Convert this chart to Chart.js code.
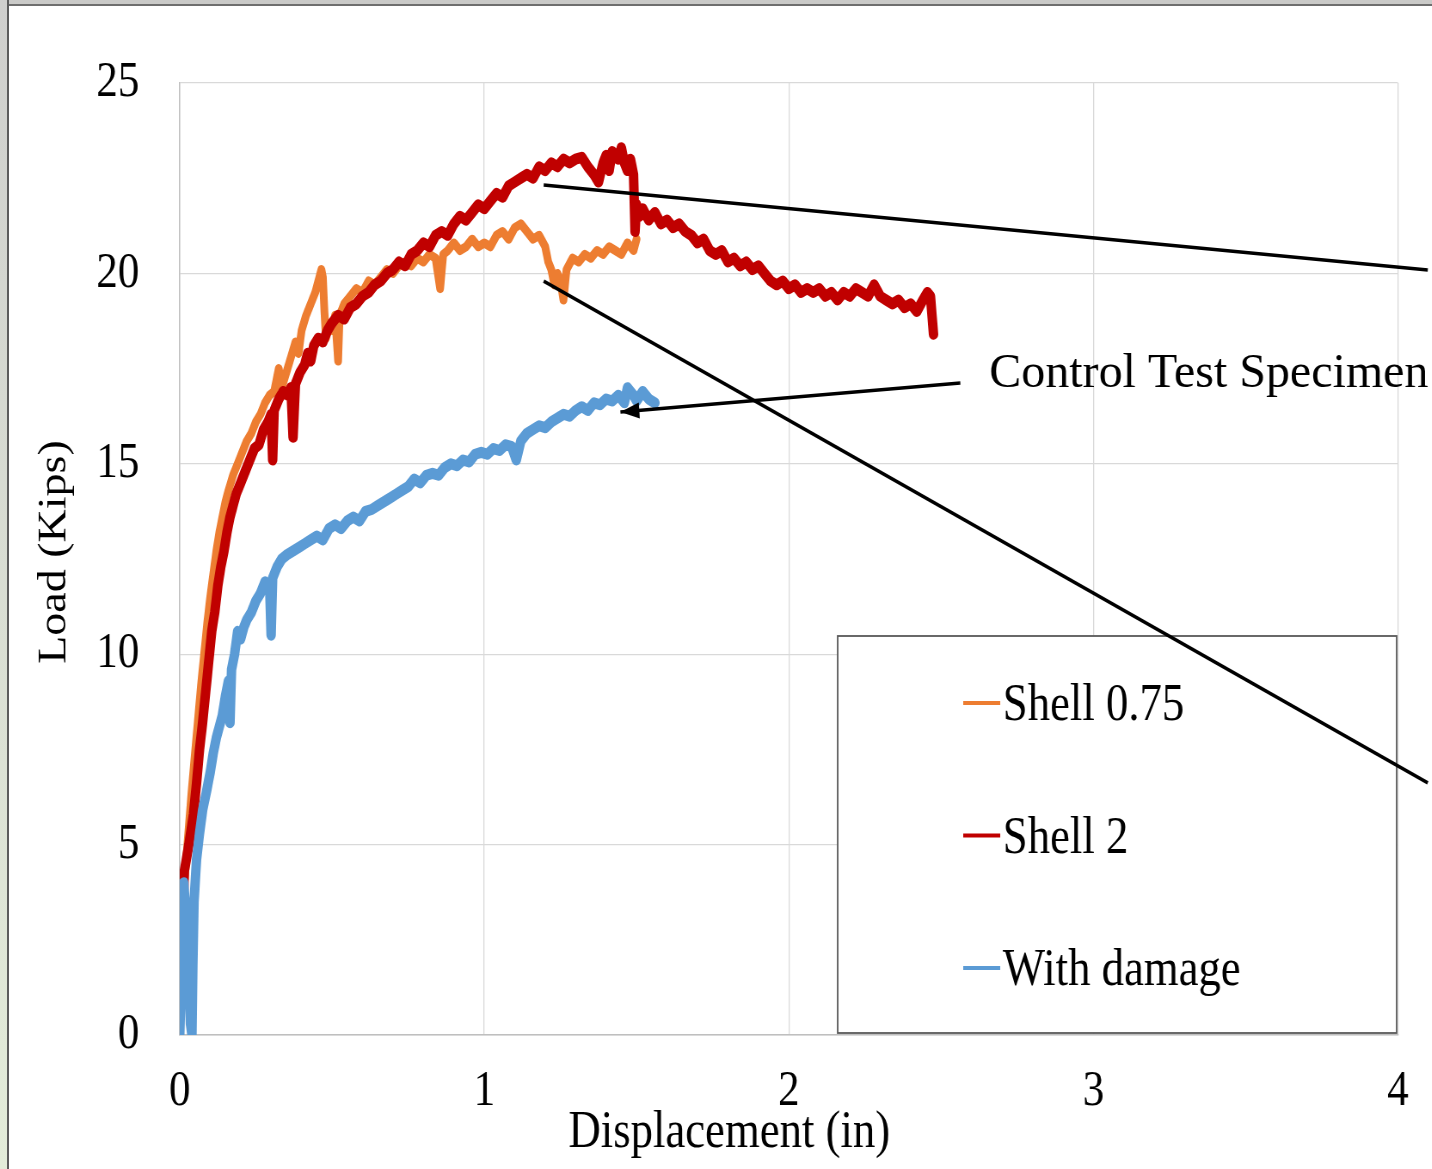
<!DOCTYPE html>
<html>
<head>
<meta charset="utf-8">
<script src="https://cdn.jsdelivr.net/npm/chart.js@4.4.0/dist/chart.umd.min.js"></script>
<style>
  html, body { margin: 0; padding: 0; background: #fff; }
  #page { position: relative; width: 1432px; height: 1169px; overflow: hidden; background: #fff; }
  /* the original figure is squeezed sideways, so draw wide and compress */
  #squash { position: absolute; left: 0; top: 0; width: 1665px; height: 1169px; transform: scaleX(0.86); transform-origin: 0 0; }
  #edgeTop { position: absolute; left: 0; top: 0; width: 1432px; height: 4px; background: #cacac8; border-bottom: 2px solid #6e6e6e; }
  #edgeLeft { position: absolute; left: 0; top: 0; width: 7px; height: 1169px; background: linear-gradient(#cfcfcd, #e3ecd9); border-right: 2px solid #5c5c5c; }
</style>
</head>
<body>
<div id="page">
  <div id="squash"><canvas id="chart"></canvas></div>
  <div id="edgeTop"></div>
  <div id="edgeLeft"></div>
</div>
<script>
// Series labels
const seriesNames = ['Shell 0.75', 'Shell 2', 'With damage'];

// Load (kips) vs displacement (in)
const shell075 = [
  [0.01,3.5],[0.02,4.5],[0.03,5.5],[0.04,6.5],[0.05,7.4],[0.06,8.3],[0.07,9.2],[0.08,10.0],[0.09,10.8],[0.1,11.5],
  [0.11,12.1],[0.12,12.7],[0.13,13.2],[0.14,13.6],[0.15,14.0],[0.16,14.3],[0.175,14.7],[0.19,15.0],[0.205,15.3],[0.22,15.6],
  [0.235,15.8],[0.25,16.1],[0.265,16.3],[0.28,16.6],[0.295,16.8],[0.31,16.9],[0.325,17.5],[0.335,17.0],[0.35,17.4],[0.365,17.8],
  [0.38,18.2],[0.39,17.9],[0.4,18.5],[0.415,18.9],[0.43,19.2],[0.445,19.5],[0.455,19.8],[0.465,20.1],[0.47,19.9],[0.475,19.0],
  [0.48,18.3],[0.49,18.6],[0.5,18.5],[0.51,18.9],[0.52,17.7],[0.525,18.9],[0.54,19.2],[0.56,19.4],[0.58,19.6],[0.6,19.5],
  [0.62,19.8],[0.64,19.7],[0.66,19.9],[0.68,20.1],[0.7,20.0],[0.72,20.2],[0.74,20.3],[0.76,20.2],[0.78,20.4],[0.8,20.3],
  [0.82,20.5],[0.84,20.4],[0.855,19.6],[0.865,20.5],[0.88,20.6],[0.9,20.8],[0.92,20.6],[0.94,20.7],[0.96,20.9],[0.98,20.7],
  [1.0,20.8],[1.02,20.7],[1.04,21.0],[1.06,21.1],[1.08,20.9],[1.1,21.2],[1.12,21.3],[1.14,21.1],[1.16,20.9],[1.18,21.0],
  [1.2,20.7],[1.21,20.3],[1.22,20.1],[1.23,19.7],[1.24,20.0],[1.25,19.8],[1.26,19.3],[1.27,20.1],[1.29,20.4],[1.31,20.3],
  [1.33,20.5],[1.35,20.4],[1.37,20.6],[1.39,20.5],[1.41,20.7],[1.43,20.6],[1.45,20.5],[1.47,20.8],[1.49,20.6],[1.5,20.9]
];

const shell2 = [
  [0.005,1.8],[0.01,3.0],[0.015,4.3],[0.03,5.0],[0.045,5.8],[0.055,6.6],[0.065,7.5],[0.075,8.2],[0.085,9.0],[0.095,9.8],
  [0.105,10.6],[0.115,11.1],[0.125,11.8],[0.135,12.3],[0.145,12.7],[0.155,13.2],[0.165,13.6],[0.175,13.9],[0.185,14.2],[0.2,14.5],
  [0.215,14.8],[0.23,15.1],[0.245,15.4],[0.26,15.5],[0.275,15.9],[0.29,16.1],[0.3,16.3],[0.305,15.1],[0.31,16.4],[0.325,16.7],
  [0.34,16.9],[0.355,16.8],[0.365,17.0],[0.372,15.7],[0.38,17.1],[0.395,17.4],[0.41,17.6],[0.42,17.9],[0.43,17.7],[0.44,18.1],
  [0.455,18.3],[0.47,18.2],[0.485,18.5],[0.5,18.7],[0.52,18.9],[0.54,18.8],[0.56,19.1],[0.58,19.2],[0.6,19.4],[0.62,19.5],
  [0.64,19.7],[0.66,19.8],[0.68,20.0],[0.7,20.1],[0.72,20.3],[0.74,20.2],[0.76,20.5],[0.78,20.6],[0.8,20.8],[0.82,20.7],
  [0.84,21.0],[0.86,21.1],[0.88,21.0],[0.9,21.3],[0.92,21.5],[0.94,21.4],[0.96,21.6],[0.98,21.8],[1.0,21.7],[1.02,21.9],
  [1.04,22.1],[1.06,22.0],[1.08,22.3],[1.1,22.4],[1.12,22.5],[1.14,22.6],[1.16,22.5],[1.18,22.8],[1.2,22.7],[1.22,22.9],
  [1.24,22.8],[1.26,23.0],[1.28,22.9],[1.3,23.0],[1.32,23.05],[1.34,22.8],[1.36,22.6],[1.375,22.4],[1.39,22.9],[1.4,23.1],
  [1.41,22.7],[1.42,23.2],[1.44,23.0],[1.45,23.3],[1.46,22.9],[1.47,22.7],[1.48,23.0],[1.49,22.6],[1.495,21.1],[1.5,21.8],
  [1.51,21.5],[1.52,21.7],[1.54,21.4],[1.56,21.6],[1.58,21.3],[1.6,21.4],[1.62,21.2],[1.64,21.3],[1.66,21.1],[1.68,21.0],
  [1.7,20.8],[1.72,20.9],[1.74,20.6],[1.76,20.5],[1.78,20.6],[1.8,20.3],[1.82,20.4],[1.84,20.2],[1.86,20.3],[1.88,20.1],
  [1.9,20.2],[1.92,20.0],[1.94,19.8],[1.96,19.7],[1.98,19.8],[2.0,19.6],[2.02,19.7],[2.04,19.5],[2.06,19.6],[2.08,19.5],
  [2.1,19.6],[2.12,19.4],[2.14,19.5],[2.16,19.3],[2.18,19.5],[2.2,19.4],[2.22,19.6],[2.24,19.5],[2.26,19.4],[2.28,19.7],
  [2.3,19.4],[2.32,19.3],[2.34,19.2],[2.36,19.3],[2.38,19.1],[2.4,19.2],[2.42,19.0],[2.44,19.3],[2.455,19.5],[2.465,19.4],
  [2.47,18.9],[2.475,18.4]
];

const withDamage = [
  [0,0],[0.005,1.5],[0.01,3.0],[0.013,4.0],[0.02,3.2],[0.03,1.5],[0.035,0.3],[0.04,0],[0.043,1.8],[0.047,3.5],
  [0.055,4.6],[0.065,5.3],[0.075,5.9],[0.088,6.4],[0.1,6.9],[0.11,7.4],[0.12,7.8],[0.13,8.1],[0.14,8.4],[0.15,8.9],
  [0.16,9.3],[0.165,8.2],[0.17,9.6],[0.18,10.0],[0.19,10.6],[0.2,10.4],[0.21,10.7],[0.22,10.9],[0.235,11.1],[0.25,11.4],
  [0.265,11.6],[0.28,11.9],[0.295,11.8],[0.3,10.5],[0.305,12.0],[0.32,12.3],[0.335,12.5],[0.35,12.6],[0.37,12.7],[0.39,12.8],
  [0.41,12.9],[0.43,13.0],[0.45,13.1],[0.47,13.0],[0.49,13.3],[0.51,13.4],[0.53,13.3],[0.55,13.5],[0.57,13.6],[0.59,13.5],
  [0.61,13.75],[0.63,13.8],[0.65,13.9],[0.67,14.0],[0.69,14.1],[0.71,14.2],[0.73,14.3],[0.75,14.4],[0.77,14.6],[0.79,14.5],
  [0.81,14.7],[0.83,14.75],[0.85,14.7],[0.87,14.9],[0.89,15.0],[0.91,14.95],[0.93,15.1],[0.95,15.05],[0.97,15.25],[0.99,15.3],
  [1.01,15.25],[1.03,15.4],[1.05,15.35],[1.07,15.5],[1.09,15.45],[1.105,15.1],[1.12,15.6],[1.14,15.8],[1.16,15.9],[1.18,16.0],
  [1.2,15.95],[1.22,16.1],[1.24,16.2],[1.26,16.3],[1.28,16.25],[1.3,16.4],[1.32,16.5],[1.34,16.4],[1.36,16.6],[1.38,16.55],
  [1.4,16.7],[1.42,16.65],[1.44,16.8],[1.46,16.6],[1.47,17.0],[1.49,16.8],[1.5,16.65],[1.52,16.9],[1.54,16.7],[1.56,16.6]
];

// Axis ticks
const xTicks = [0, 1, 2, 3, 4];
const yTicks = [0, 5, 10, 15, 20, 25];

const SQUASH = 0.86;
const SERIF = '"Liberation Serif", "Times New Roman", serif';

// Callouts drawn over the plot (data units)
const callouts = [
  { from: [1.195, 22.32], to: [4.098, 20.09], arrow: false },
  { from: [1.195, 19.8], to: [4.098, 6.62], arrow: false },
  { from: [2.563, 17.12], to: [1.447, 16.36], arrow: true }
];
const calloutText = { text: 'Control Test Specimen', at: [2.658, 17.02] };

function toPoints(list) {
  return list.map(function(p) { return { x: p[0], y: p[1] }; });
}

const extras = {
  id: 'extras',
  afterDraw(chart) {
    const ctx = chart.ctx;
    const px = v => chart.scales.x.getPixelForValue(v);
    const py = v => chart.scales.y.getPixelForValue(v);

    // Axis titles
    ctx.save();
    ctx.fillStyle = '#000';
    ctx.font = '52px ' + SERIF;
    ctx.textAlign = 'center';
    ctx.textBaseline = 'alphabetic';
    ctx.fillText('Displacement (in)', 848, 1147);
    ctx.translate(64, 552);
    ctx.rotate(-Math.PI / 2);
    ctx.font = '46px ' + SERIF;
    ctx.textBaseline = 'middle';
    ctx.fillText('Load (Kips)', 0, 0);
    ctx.restore();

    // Legend box inside the plot
    ctx.save();
    ctx.fillStyle = '#fff';
    ctx.fillRect(974, 636, 650, 397);
    ctx.strokeStyle = '#595959';
    ctx.lineWidth = 1.8;
    ctx.strokeRect(974, 636, 650, 397);
    chart.data.datasets.forEach(function(ds, i) {
      const y = 703 + i * 132.5;
      ctx.strokeStyle = ds.borderColor;
      ctx.lineWidth = 4;
      ctx.beginPath();
      ctx.moveTo(1120, y);
      ctx.lineTo(1163, y);
      ctx.stroke();
      ctx.fillStyle = '#000';
      ctx.font = '52px ' + SERIF;
      ctx.textAlign = 'left';
      ctx.textBaseline = 'alphabetic';
      ctx.fillText(ds.label, 1166, y + 17);
    });
    ctx.restore();

    // Callout lines and arrow
    ctx.save();
    ctx.strokeStyle = '#000';
    ctx.fillStyle = '#000';
    ctx.lineWidth = 3.6;
    callouts.forEach(function(c) {
      const x1 = px(c.from[0]), y1 = py(c.from[1]);
      const x2 = px(c.to[0]), y2 = py(c.to[1]);
      ctx.beginPath();
      ctx.moveTo(x1, y1);
      ctx.lineTo(x2, y2);
      ctx.stroke();
      if (c.arrow) {
        const a = Math.atan2(y2 - y1, x2 - x1);
        const len = 22, half = 8;
        ctx.beginPath();
        ctx.moveTo(x2, y2);
        ctx.lineTo(x2 - len * Math.cos(a) + half * Math.sin(a), y2 - len * Math.sin(a) - half * Math.cos(a));
        ctx.lineTo(x2 - len * Math.cos(a) - half * Math.sin(a), y2 - len * Math.sin(a) + half * Math.cos(a));
        ctx.closePath();
        ctx.fill();
      }
    });
    // the callout text is not squeezed in the original
    ctx.translate(px(calloutText.at[0]), py(calloutText.at[1]));
    ctx.scale(1 / SQUASH, 1);
    ctx.font = '48px ' + SERIF;
    ctx.textAlign = 'left';
    ctx.textBaseline = 'alphabetic';
    ctx.fillText(calloutText.text, 0, 0);
    ctx.restore();
  }
};

const tickFont = { family: SERIF, size: 50 };

new Chart(document.getElementById('chart'), {
  type: 'scatter',
  data: {
    datasets: [
      { label: seriesNames[0], data: toPoints(shell075), borderColor: '#ED7D31', borderWidth: 9, order: 3 },
      { label: seriesNames[1], data: toPoints(shell2), borderColor: '#C00000', borderWidth: 11, order: 2 },
      { label: seriesNames[2], data: toPoints(withDamage), borderColor: '#5B9BD5', borderWidth: 11, order: 1 }
    ].map(function(ds) {
      return Object.assign(ds, { showLine: true, pointRadius: 0, tension: 0, borderJoinStyle: 'round', borderCapStyle: 'round' });
    })
  },
  options: {
    responsive: true,
    maintainAspectRatio: false,
    animation: false,
    layout: { padding: { left: 0, top: 83, right: 35, bottom: 0 } },
    plugins: { legend: { display: false }, tooltip: { enabled: false } },
    scales: {
      x: {
        type: 'linear',
        min: xTicks[0],
        max: xTicks[xTicks.length - 1],
        afterBuildTicks: function(scale) { scale.ticks = xTicks.map(v => ({ value: v })); },
        ticks: { padding: 27, color: '#000', font: tickFont },
        grid: { color: '#d9d9d9', lineWidth: 1.3, drawTicks: false },
        border: { color: '#bfbfbf', width: 1.5 },
        afterFit: function(scale) { scale.height = 134; }
      },
      y: {
        type: 'linear',
        min: yTicks[0],
        max: yTicks[yTicks.length - 1],
        afterBuildTicks: function(scale) { scale.ticks = yTicks.map(v => ({ value: v })); },
        ticks: { padding: 47, color: '#000', font: tickFont },
        grid: { color: '#d9d9d9', lineWidth: 1.3, drawTicks: false },
        border: { color: '#bfbfbf', width: 1.5 },
        afterFit: function(scale) { scale.width = 209; }
      }
    }
  },
  plugins: [extras]
});
</script>
</body>
</html>
